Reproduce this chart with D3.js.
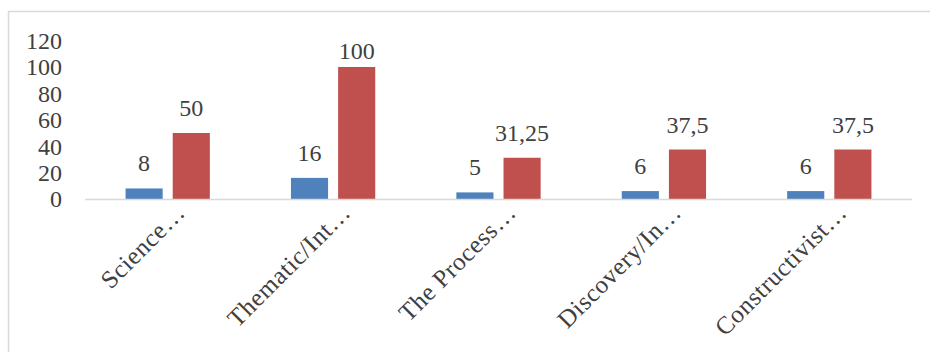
<!DOCTYPE html>
<html>
<head>
    <script src="https://cdn.jsdelivr.net/npm/d3@7"></script>
    <style>
        body { margin: 0; background: #fff; }
        text { font-family: "Liberation Serif", "DejaVu Serif", serif; fill: #404040; }
    </style>
</head>
<body>
    <svg width="930" height="352" id="mainsvg"></svg>
    <script>
        // chart values
        const categories = ['Science…', 'Thematic/Int…', 'The Process…', 'Discovery/In…', 'Constructivist…'];
        const seriesNames = ['A', 'B'];
        const blueValues = [8, 16, 5, 6, 6];
        const redValues = [50, 100, 31.25, 37.5, 37.5];
        const yTicks = [0, 20, 40, 60, 80, 100, 120];

        const colors = { A: '#4F81BD', B: '#C0504D' };

        const svg = d3.select('#mainsvg');

        // chart border (open on the right and bottom, as in the picture)
        svg.append('rect')
            .attr('x', 8.5).attr('y', 11.5)
            .attr('width', 1000).attr('height', 1000)
            .attr('fill', 'none')
            .attr('stroke', '#d9d9d9')
            .attr('stroke-width', 1.5);

        const data = categories.map((c, i) => ({ cat: c, A: blueValues[i], B: redValues[i] }));

        const x0 = d3.scaleBand().domain(categories).range([85, 912]);
        const x1 = d3.scaleBand().domain(seriesNames)
            .range([0, x0.bandwidth()])
            .paddingInner(0.213)
            .paddingOuter(0.86);
        const y = d3.scaleLinear().domain([0, 120]).range([199, 40.6]);

        const fmt = v => String(v).replace('.', ',');

        // y tick labels, no axis line
        const yAxis = d3.axisLeft(y).tickValues(yTicks).tickSize(0).tickPadding(0);
        const yg = svg.append('g').attr('transform', 'translate(62,0)').call(yAxis);
        yg.select('.domain').remove();
        yg.selectAll('text')
            .attr('font-size', '24px')
            .attr('font-family', '"Liberation Serif", serif')
            .attr('fill', '#404040')
            .attr('dy', '0.33em');

        // bars
        const groups = svg.selectAll('.cat').data(data).join('g')
            .attr('class', 'cat')
            .attr('transform', d => `translate(${x0(d.cat)},0)`);

        groups.selectAll('rect').data(d => seriesNames.map(k => ({ key: k, value: d[k] }))).join('rect')
            .attr('x', d => x1(d.key))
            .attr('width', x1.bandwidth())
            .attr('y', d => y(d.value))
            .attr('height', d => y(0) - y(d.value))
            .attr('fill', d => colors[d.key]);

        // value labels
        groups.selectAll('.val').data(d => seriesNames.map(k => ({ key: k, value: d[k] }))).join('text')
            .attr('class', 'val')
            .attr('x', d => x1(d.key) + x1.bandwidth() / 2)
            .attr('y', d => Math.max(y(d.value) - 17, y(120) + 18))
            .attr('text-anchor', 'middle')
            .attr('font-size', '24px')
            .text(d => fmt(d.value));

        // x axis line
        svg.append('line')
            .attr('x1', x0.range()[0]).attr('x2', x0.range()[1])
            .attr('y1', y(0) + 0.5).attr('y2', y(0) + 0.5)
            .attr('stroke', '#d9d9d9')
            .attr('stroke-width', 1.5);

        // category labels, rotated
        svg.selectAll('.catlabel').data(categories).join('text')
            .attr('class', 'catlabel')
            .attr('text-anchor', 'end')
            .attr('font-size', '25px')
            .attr('letter-spacing', '0.6px')
            .attr('transform', d => `translate(${x0(d) + x0.bandwidth() / 2 + 19},214) rotate(-45)`)
            .text(d => d);
    </script>
</body>
</html>
